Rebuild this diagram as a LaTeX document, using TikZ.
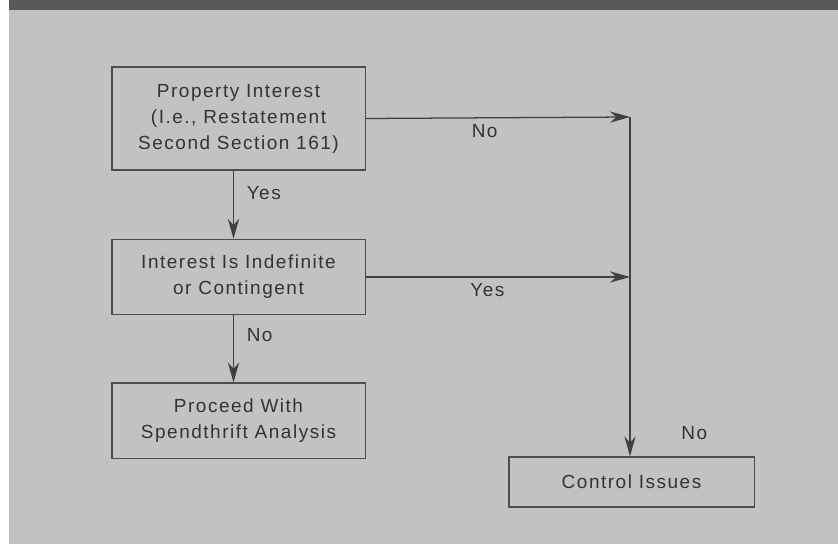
\documentclass[tikz,border=0pt]{standalone}
\usepackage{fontspec}
\setmainfont{Liberation Sans}[LetterSpace=8]
\usetikzlibrary{positioning,arrows.meta}
\tikzset{
	caja/.style={rectangle, draw=black!70, line width=0.9pt, text=black!80,
		font=\fontsize{13.5}{18.5}\selectfont, minimum width=6.33cm,
		align=center, inner sep=2pt},
	rotulo/.style={text=black!80, font=\fontsize{13.5}{15}\selectfont, inner sep=2pt},
	flecha/.style={draw=black!75, line width=0.9pt,
		-{Stealth[length=5mm, width=2.8mm, inset=1.6mm]}},
	desvio/.style={xshift=-0.125cm}
}

\begin{document}
\begin{tikzpicture}[x=0.025cm, y=-0.025cm, node distance=1.7cm]
			% fondo y banda superior
			\useasboundingbox (0,0) rectangle (838,544);
			\fill[black!24] (9,10) rectangle (838,544);
			\fill[black!65] (9,0) rectangle (838,10);
			
			\node[caja, minimum height=2.58cm] (prop) at (238.5,118.5) {Property Interest\\
				(I.e., Restatement\\
				Second Section 161)};
			\node[caja, minimum height=1.88cm, below=of prop] (indef) {Interest Is Indefinite\\
				or Contingent};
			\node[caja, minimum height=1.88cm, below=1.68cm of indef] (spend) {Proceed With\\
				Spendthrift Analysis};
			\node[caja, minimum width=6.13cm, minimum height=1.25cm] (ctrl) at (631.5,482) {Control Issues};
			
			\coordinate (j1) at (630,117);
			\coordinate (j2) at (j1 |- indef.east);
			
			\draw[flecha] (prop.east) -- node[rotulo, below=2pt, pos=0.45] (noA) {No} (j1);
			\draw[flecha] (indef.east) -- node[rotulo, below=2pt, pos=0.46] (yesB) {Yes} (j2);
			\draw[flecha] ([desvio]prop.south) -- node[rotulo, right=7pt, pos=0.33] (yesA) {Yes} ([desvio]indef.north);
			\draw[flecha] ([desvio]indef.south) -- node[rotulo, right=7pt, pos=0.3] (noB) {No} ([desvio]spend.north);
			\draw[flecha] (j1) -- node[rotulo, right=1.2cm, pos=0.93] (noC) {No} (j1 |- ctrl.north);
		\end{tikzpicture}
\end{document}
